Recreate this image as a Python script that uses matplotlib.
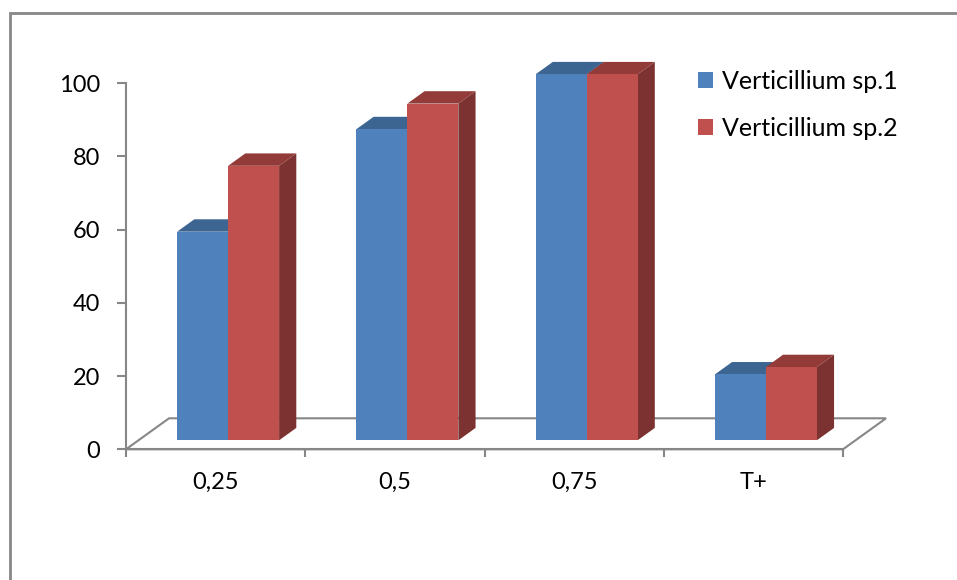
import matplotlib
matplotlib.use('Agg')
import matplotlib.pyplot as plt
from matplotlib.patches import Polygon, Rectangle, Patch

# germination inhibition (%) per concentration
categories = ['0,25', '0,5', '0,75', 'T+']
sp1 = [57, 85, 100, 18]
sp2 = [75, 92, 100, 20]
series_names = ['Verticillium sp.1', 'Verticillium sp.2']

# colours: front, top, side
blue = ('#4F81BD', '#3D6592', '#345780')
red = ('#C0504D', '#923B39', '#7C3230')
grey = '#878787'

plt.rcParams['font.family'] = ['Lato', 'DejaVu Sans']

fig = plt.figure(figsize=(9.57, 5.80), dpi=100)
ax = fig.add_axes([126 / 957, 130.7 / 580, 717 / 957, 366 / 580])
ax.set_xlim(0, len(categories))
ax.set_ylim(0, 100)

# oblique depth of the floor, in data units
DX, DY = 0.24, 8.47
# bars sit in the middle of the depth
d0, d1 = 0.29, 0.69
bw = 0.2845


def box(x, h, cols):
    x0, y0 = x + d0 * DX, d0 * DY
    ddx, ddy = (d1 - d0) * DX, (d1 - d0) * DY
    front = Rectangle((x0, y0), bw, h, facecolor=cols[0], edgecolor='none')
    top = Polygon([(x0, y0 + h), (x0 + bw, y0 + h), (x0 + bw + ddx, y0 + h + ddy),
                   (x0 + ddx, y0 + h + ddy)], facecolor=cols[1], edgecolor='none')
    side = Polygon([(x0 + bw, y0), (x0 + bw + ddx, y0 + ddy), (x0 + bw + ddx, y0 + h + ddy),
                    (x0 + bw, y0 + h)], facecolor=cols[2], edgecolor='none')
    for p in (side, top, front):
        p.set_clip_on(False)
        ax.add_patch(p)


# floor
n = len(categories)
floor = Polygon([(0, 0), (n, 0), (n + DX, DY), (DX, DY)], closed=True,
                facecolor='white', edgecolor=grey, linewidth=1.5, clip_on=False)
ax.add_patch(floor)

for i in range(n):
    left = i + 0.5 - bw
    box(left, sp1[i], blue)
    box(left + bw, sp2[i], red)

for s in ['top', 'right']:
    ax.spines[s].set_visible(False)
for s in ['left', 'bottom']:
    ax.spines[s].set_color(grey)
    ax.spines[s].set_linewidth(1.5)
    ax.spines[s].set_zorder(5)

ax.set_yticks(range(0, 101, 20))
ax.tick_params(axis='y', length=6.5, width=1.5, color=grey, pad=12, labelsize=17)
ax.set_xticks(range(n + 1))
ax.set_xticklabels([])
ax.set_xticks([i + 0.5 for i in range(n)], minor=True)
ax.set_xticklabels(categories, minor=True)
ax.tick_params(axis='x', which='major', length=6, width=1.5, color=grey)
ax.tick_params(axis='x', which='minor', length=0, pad=16, labelsize=17)
ax.set_facecolor('none')

handles = [Patch(facecolor=blue[0]), Patch(facecolor=red[0])]
fig.legend(handles, series_names, loc='upper left', bbox_to_anchor=(688 / 957, 1 - 60 / 580),
           frameon=False, fontsize=18, handlelength=0.6, handleheight=0.6,
           handletextpad=0.35, labelspacing=0.95, borderaxespad=0)

# chart area frame
fig.add_artist(Rectangle((9.5 / 957, -0.1), 1.2, 1.1 - 13 / 580, transform=fig.transFigure,
                         facecolor='none', edgecolor=grey, linewidth=2))

fig.savefig('out.png', dpi=100)
